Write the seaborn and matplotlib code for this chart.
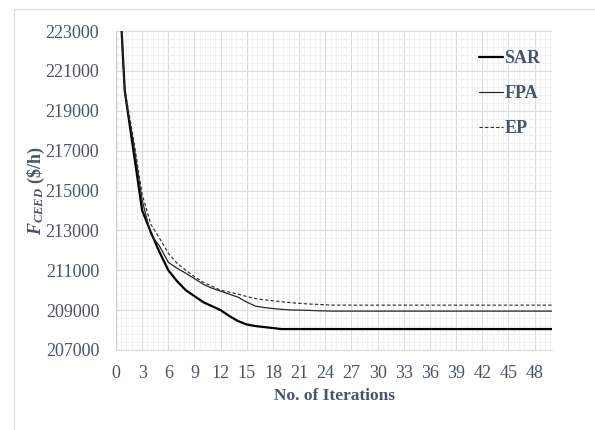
import matplotlib
matplotlib.use("Agg")
import matplotlib.pyplot as plt
from matplotlib.ticker import MultipleLocator, FixedLocator
from matplotlib.patches import Rectangle
import seaborn as sns
import pandas as pd

iterations = list(range(0, 51))
sar = [228500, 220000, 217000, 214000, 212900, 211900, 211000, 210450, 210000, 209700,
       209400, 209200, 209000, 208700, 208450, 208280, 208200, 208150, 208100, 208050,
       208050, 208050, 208050, 208050, 208050, 208050, 208050, 208050, 208050, 208050,
       208050, 208050, 208050, 208050, 208050, 208050, 208050, 208050, 208050, 208050,
       208050, 208050, 208050, 208050, 208050, 208050, 208050, 208050, 208050, 208050,
       208050]
fpa = [228500, 219900, 217400, 214500, 212800, 212200, 211400, 211100, 210850, 210580,
       210300, 210100, 209950, 209800, 209650, 209400, 209200, 209130, 209080, 209040,
       209010, 209000, 208990, 208970, 208960, 208950, 208950, 208950, 208950, 208950,
       208950, 208950, 208950, 208950, 208950, 208950, 208950, 208950, 208950, 208950,
       208950, 208950, 208950, 208950, 208950, 208950, 208950, 208950, 208950, 208950,
       208950]
ep = [228500, 220100, 217600, 214800, 213300, 212600, 211850, 211350, 211000, 210680,
      210400, 210200, 210000, 209900, 209800, 209680, 209580, 209520, 209470, 209420,
      209380, 209340, 209310, 209290, 209270, 209250, 209250, 209250, 209250, 209250,
      209250, 209250, 209250, 209250, 209250, 209250, 209250, 209250, 209250, 209250,
      209250, 209250, 209250, 209250, 209250, 209250, 209250, 209250, 209250, 209250,
      209250]
series_names = ["SAR", "FPA", "EP"]
x_ticks = [0, 3, 6, 9, 12, 15, 18, 21, 24, 27, 30, 33, 36, 39, 42, 45, 48]
y_ticks = [207000, 209000, 211000, 213000, 215000, 217000, 219000, 221000, 223000]
xlabel = "No. of Iterations"
ylabel = r"$\mathbfit{F}_{\mathbfit{CEED}}$ (\$/h)"

df = pd.DataFrame({
    "iter": iterations * 3,
    "value": sar + fpa + ep,
    "algo": ["SAR"] * len(iterations) + ["FPA"] * len(iterations) + ["EP"] * len(iterations),
})

sns.set_theme(style="white")
plt.rcParams["font.family"] = ["Liberation Serif", "DejaVu Serif"]
plt.rcParams["mathtext.fontset"] = "custom"
plt.rcParams["mathtext.rm"] = "Liberation Serif"
plt.rcParams["mathtext.it"] = "Liberation Serif:italic"
plt.rcParams["mathtext.bf"] = "Liberation Serif:bold"
plt.rcParams["mathtext.bfit"] = "Liberation Serif:bold:italic"

text_color = "#44546A"
major_grid = "#d6dce4"
minor_grid = "#eceff4"

fig = plt.figure(figsize=(5.95, 4.30), dpi=100)
ax = fig.add_axes([116 / 595, 1 - 350 / 430, (552 - 116) / 595, (350 - 31) / 430])

styles = {
    "SAR": dict(color="black", lw=1.6, ls="-"),
    "FPA": dict(color="#262626", lw=0.9, ls="-"),
    "EP": dict(color="#262626", lw=0.8, ls=(0, (3, 2))),
}
for name in series_names:
    sub = df[df["algo"] == name]
    sns.lineplot(data=sub, x="iter", y="value", ax=ax, label=name,
                 color=styles[name]["color"], linewidth=styles[name]["lw"],
                 linestyle=styles[name]["ls"])

ax.set_xlim(0, 50)
ax.set_ylim(207000, 223000)
ax.set_xticks(x_ticks)
ax.xaxis.set_minor_locator(MultipleLocator(0.6))
ax.set_yticks(y_ticks)
ax.yaxis.set_minor_locator(FixedLocator(list(range(207000, 223001, 400))))

ax.grid(which="major", color=major_grid, lw=0.8)
ax.grid(which="minor", color=minor_grid, lw=0.6)
ax.set_axisbelow(True)

for s in ["top", "right"]:
    ax.spines[s].set_visible(False)
ax.spines["left"].set_color("#c3cad5")
ax.spines["bottom"].set_color(major_grid)
ax.spines["left"].set_linewidth(0.8)
ax.spines["bottom"].set_linewidth(0.8)

ax.tick_params(axis="both", which="major", direction="out", length=4,
               color="#c3cad5", width=0.8, labelsize=13, labelcolor=text_color)
ax.tick_params(axis="y", which="major", pad=8)
ax.tick_params(axis="x", which="major", pad=7)
ax.tick_params(axis="both", which="minor", direction="out", length=4,
               color=minor_grid, width=0.6)

ax.set_xlabel(xlabel, fontsize=12.5, fontweight="bold", color=text_color)
ax.xaxis.set_label_coords(0.5, -0.12)
ax.set_ylabel(ylabel, fontsize=13, fontweight="bold", color=text_color)
ax.yaxis.set_label_coords(-0.158, 0.5)

leg = ax.legend(loc="upper left", bbox_to_anchor=(479 / 595, 1 - 50 / 430),
                bbox_transform=fig.transFigure, frameon=False,
                handlelength=1.35, handletextpad=0.05, labelspacing=1.0,
                borderpad=0, borderaxespad=0, fontsize=13)
for t in leg.get_texts():
    t.set_color(text_color)
    t.set_fontweight("bold")

fig.patches.append(Rectangle((14 / 595, -0.1), 1.2, 1 - 9 / 430 + 0.1,
                             transform=fig.transFigure, fill=False,
                             edgecolor="#d9d9d9", lw=0.8, zorder=-1))

fig.savefig("out.png", dpi=100, facecolor="white")
